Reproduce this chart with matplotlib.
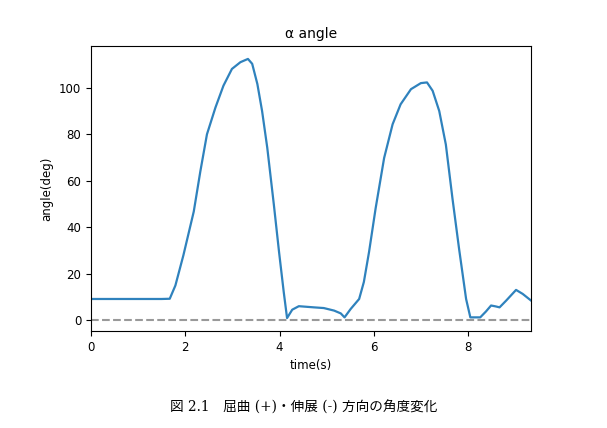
import matplotlib
matplotlib.use("Agg")
import matplotlib.pyplot as plt
import numpy as np

t = [0.00, 0.50, 1.00, 1.50, 1.67, 1.79, 1.96, 2.18, 2.32, 2.46, 2.64, 2.81, 2.99,
     3.17, 3.33, 3.42, 3.53, 3.63, 3.74, 3.88, 3.99, 4.09, 4.16, 4.27, 4.41, 4.73,
     4.94, 5.16, 5.30, 5.38, 5.51, 5.69, 5.79, 5.90, 6.04, 6.22, 6.40, 6.57, 6.79,
     7.00, 7.13, 7.25, 7.39, 7.53, 7.67, 7.81, 7.96, 8.05, 8.26, 8.38, 8.49, 8.59,
     8.67, 8.81, 9.02, 9.16, 9.34]
angle = [9.2, 9.2, 9.2, 9.2, 9.3, 15.0, 28.0, 46.8, 64.1, 80.0, 91.5, 100.9, 108.1,
         111.0, 112.4, 110.3, 101.6, 90.0, 74.2, 49.7, 29.4, 12.1, 1.0, 4.6, 6.1, 5.6,
         5.3, 4.2, 3.0, 1.3, 4.9, 9.2, 16.5, 29.4, 48.2, 69.8, 84.3, 92.9, 99.4,
         102.0, 102.3, 98.7, 90.0, 75.6, 52.5, 30.9, 9.2, 1.3, 1.3, 3.8, 6.4, 6.0,
         5.6, 8.5, 13.1, 11.4, 8.5]

title = "α angle"
xlabel = "time(s)"
ylabel = "angle(deg)"
caption = "図 2.1　屈曲 (+)・伸展 (-) 方向の角度変化"

fig = plt.figure(figsize=(6.07, 4.28), dpi=100)
ax = fig.add_axes([0.150, 0.2266, 0.725, 0.666])
ax.plot(t, angle, color="#2f82bd", lw=1.6, solid_joinstyle="round")
ax.axhline(0, color="gray", ls="--", lw=1.5, alpha=0.8)
ax.set_xlim(0, t[-1])
ax.set_xticks([0, 2, 4, 6, 8])
ax.set_yticks([0, 20, 40, 60, 80, 100])
ax.tick_params(labelsize=8.5, length=3.5)
ax.set_title(title, fontsize=10)
ax.set_xlabel(xlabel, fontsize=8.5)
ax.set_ylabel(ylabel, fontsize=8.5)
for s in ax.spines.values():
    s.set_linewidth(0.8)
fig.text(0.5, 1 - 408 / 428, caption, ha="center", va="center", fontsize=9.8,
         family=["DejaVu Serif", "Noto Sans CJK JP"])
fig.savefig("out.png", dpi=100)
